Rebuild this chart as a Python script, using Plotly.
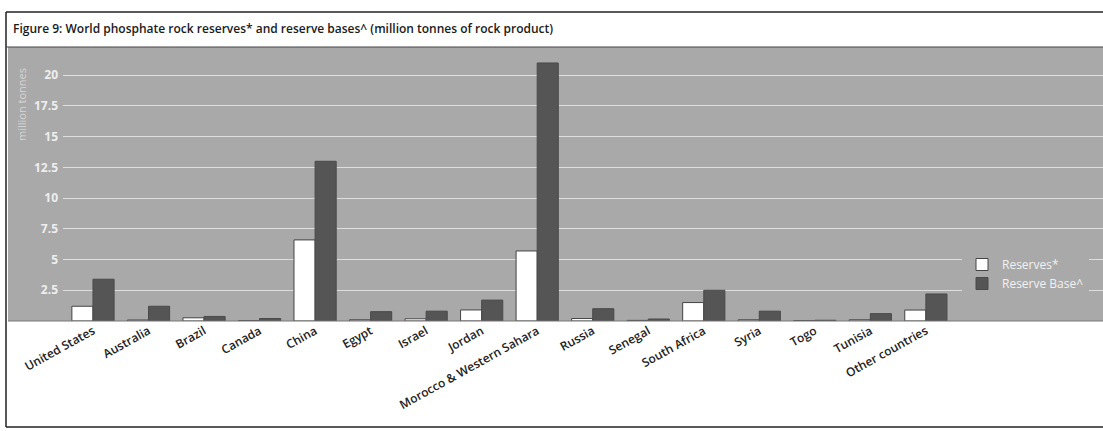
import plotly.graph_objects as go

categories = ["United States", "Australia", "Brazil", "Canada", "China", "Egypt",
              "Israel", "Jordan", "Morocco & Western Sahara", "Russia", "Senegal",
              "South Africa", "Syria", "Togo", "Tunisia", "Other countries"]
reserves = [1.2, 0.08, 0.26, 0.03, 6.6, 0.1, 0.18, 0.9, 5.7, 0.2, 0.05, 1.5, 0.1, 0.03, 0.1, 0.89]
reserve_base = [3.4, 1.2, 0.37, 0.2, 13.0, 0.76, 0.8, 1.7, 21.0, 1.0, 0.16, 2.5, 0.8, 0.06, 0.6, 2.2]
y_ticks = [2.5, 5, 7.5, 10, 12.5, 15, 17.5, 20]
y_ticklabels = ["2.5", "5", "7.5", "10", "12.5", "15", "17.5", "20"]
title_text = "Figure 9: World phosphate rock reserves* and reserve bases^ (million tonnes of rock product)"
y_title = "million tonnes"

W, H = 1103, 431
L, R, T, B = 63, 0, 47, 110
pw = W - L - R
ph = H - T - B

def px_x(x):
    return (x - L) / pw

def px_y(y):
    return (H - B - y) / ph

GRAY = "#a9a9a9"
DARK = "#555555"
FONT = "Open Sans"

fig = go.Figure()
fig.add_trace(go.Bar(x=categories, y=reserves, name="Reserves*",
                     marker=dict(color="#ffffff", line=dict(color="#444444", width=1))))
fig.add_trace(go.Bar(x=categories, y=reserve_base, name="Reserve Base^",
                     marker=dict(color=DARK, line=dict(color="#4a4a4a", width=1))))

fig.update_layout(
    width=W, height=H,
    margin=dict(l=L, r=R, t=T, b=B, pad=0),
    paper_bgcolor="white",
    plot_bgcolor=GRAY,
    barmode="group", bargap=0.24, bargroupgap=0.0,
    font=dict(family=FONT, size=12, color="#222222"),
    showlegend=True,
    legend=dict(x=px_x(962), y=px_y(250), xanchor="left", yanchor="top",
                bgcolor=GRAY, font=dict(color="#f2f2f2", size=12, family=FONT),
                itemwidth=30, tracegroupgap=2),
    xaxis=dict(range=[-0.54, 18.19], tickangle=-29, showgrid=False, zeroline=False,
               showline=False, ticks="", ticklen=0,
               tickfont=dict(size=12, color="#222222", family=FONT, weight=600)),
    yaxis=dict(range=[0, 22.3], tickvals=y_ticks, ticktext=y_ticklabels,
               showgrid=True, gridcolor="rgba(235,235,235,0.8)", gridwidth=1,
               zeroline=False, showline=False, ticks="", ticklen=0, ticklabelstandoff=4,
               tickfont=dict(size=12, color="#eeeeee", family=FONT, weight=700)),
)

shapes = [
    dict(type="rect", xref="paper", yref="paper", x0=px_x(8), x1=1, y0=0, y1=1,
         fillcolor=GRAY, line=dict(width=0), layer="below"),
    dict(type="line", xref="paper", yref="paper", x0=px_x(6), x1=px_x(6), y0=px_y(12), y1=px_y(427),
         line=dict(color="#222222", width=1.5)),
    dict(type="line", xref="paper", yref="paper", x0=px_x(6), x1=1, y0=px_y(12), y1=px_y(12),
         line=dict(color="#222222", width=1.5)),
    dict(type="line", xref="paper", yref="paper", x0=px_x(6), x1=1, y0=px_y(47), y1=px_y(47),
         line=dict(color="#444444", width=1)),
    dict(type="line", xref="paper", yref="paper", x0=px_x(6), x1=1, y0=px_y(427), y1=px_y(427),
         line=dict(color="#222222", width=1.5)),
    dict(type="line", xref="paper", yref="paper", x0=px_x(8), x1=1, y0=0, y1=0,
         line=dict(color="#777777", width=1)),
]
fig.update_layout(shapes=shapes)

fig.add_annotation(text=title_text, xref="paper", yref="paper", x=px_x(11), y=px_y(29),
                   xanchor="left", yanchor="middle", showarrow=False,
                   font=dict(size=12, color="#1a1a1a", family=FONT, weight=600))
fig.add_annotation(text=y_title, xref="paper", yref="paper", x=px_x(21), y=px_y(105),
                   xanchor="center", yanchor="middle", showarrow=False, textangle=-90,
                   font=dict(size=11, color="#d6d6d6", family=FONT))

fig.write_html("out.html")
